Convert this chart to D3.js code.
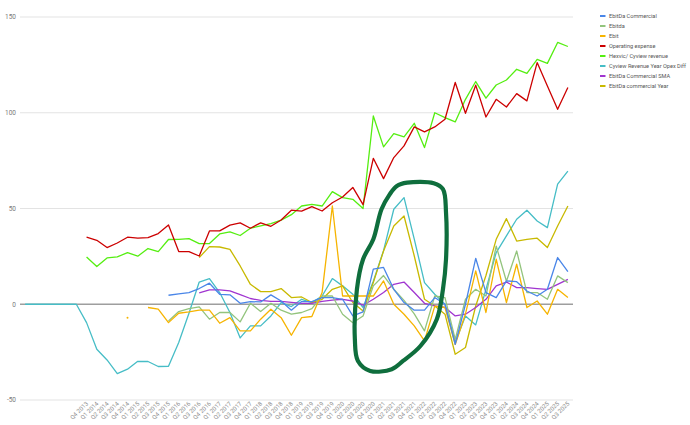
<!DOCTYPE html>
<html><head><meta charset="utf-8">
<script src="https://cdn.jsdelivr.net/npm/d3@7"></script>
<style>
html,body{margin:0;padding:0;background:#fff;}
text{font-family:Roboto,"Noto Sans",Arial,sans-serif;}
</style></head>
<body><svg id="c" width="690" height="425"></svg>
<script>
const N = null;
const quarters = ["","","","","","",
 "Q4 2013","Q1 2014","Q2 2014","Q3 2014","Q4 2014","Q1 2015","Q2 2015","Q3 2015","Q4 2015",
 "Q1 2016","Q2 2016","Q3 2016","Q4 2016","Q1 2017","Q2 2017","Q3 2017","Q4 2017",
 "Q1 2018","Q2 2018","Q3 2018","Q4 2018","Q1 2019","Q2 2019","Q3 2019","Q4 2019",
 "Q1 2020","Q2 2020","Q3 2020","Q4 2020","Q1 2021","Q2 2021","Q3 2021","Q4 2021",
 "Q1 2022","Q2 2022","Q3 2022","Q4 2022","Q1 2023","Q2 2023","Q3 2023","Q4 2023",
 "Q1 2024","Q2 2024","Q3 2024","Q4 2024","Q1 2025","Q2 2025","Q3 2025"];

const ebitdaCommercial = [N,N,N,N,N,N, N,N,N,N,N,N,N,N,
 4.7,5.4,6.1,8.2,11,5.2,4.9,0.5,1.4,1.2,4.9,1.7,
 -3.1,1.4,1.4,3.5,3.5,2.6,-6.1,-4,18.3,19.2,
 7.8,0.9,-3.1,-3.1,3.5,0,-20.9,0,24,6.1,
 3.5,12.2,11.8,6.9,4.3,7.8,24.4,17];
const ebitda = [N,N,N,N,N,N, N,N,N,N,N,N,N,N,
 -8.7,-3.8,-2.3,-1.4,-7.8,-4.3,-4.3,-9.2,0.5,-3.8,0.5,-3.1,
 -5.2,-4.3,-2.3,4.3,4.3,-5.2,-9.6,-6.1,9.6,15,
 7.8,2,-5,-13.9,4.3,3.5,-18.3,2.6,7.8,4.3,
 30.4,12,27.8,6.1,6.1,2.6,14.8,11.3];
const ebit = [N,N,N,N,N,N, N,N,N,N,-7,N,
 -1.7,-2.6,-9.6,-4.7,
 -4,-3.1,-3.1,-9.9,-7,-13.9,-13.9,-7.8,-2.6,-7,
 -16.2,-7,-6.4,6.1,51.3,4.3,4.3,4.3,4.3,12.2,
 0,-5.2,-11.3,-19.1,-1,-1.7,-21,-5,17.4,-4.3,
 23.5,0.9,20.9,-1.7,1.7,-5.2,7.8,3.5];
const operatingExpense = [N,N,N,N,N,N,
 35.1,33.4,29.6,32,35,34.5,34.8,36.9,41.4,27.5,
 27.5,25.2,38.3,38.3,41.3,42.5,39.7,42.5,40.7,44,
 49.1,48.6,51,48.7,53,56,61,52,76.2,65.6,
 76.6,82.7,92.6,90,92.6,96.6,115.8,99.7,114.4,97.8,
 107,103,110,106.2,126.2,114,101.8,113.2];
const revenue = [N,N,N,N,N,N,
 24.7,19.7,24.2,24.7,27,25.1,29.1,27.5,33.8,33.9,
 34.3,31.7,31.7,36.7,37.8,35.9,39.7,40.9,42.1,43.9,
 46.8,51.3,52.2,51.3,58.8,55.7,54.8,50,98.3,82.2,
 89.1,87.4,94.5,81.8,100,97.5,95.2,107,116.3,107.6,
 114.5,117.1,122.7,120.6,127.9,125.8,136.7,134.6];
const opexDiff = [0,0,0,0,0,0,
 -9.6,-23.5,-29.1,-36.2,-33.9,-29.8,-29.9,-32.5,-32.4,-20,
 -4.7,11.6,13.4,6.1,-4.3,-17.6,-11.3,-11.3,-6.1,0.9,
 -1.2,2.6,0.9,4.3,13.4,9.6,5.2,-1.7,12,28,
 49.6,55.7,34,11.3,5.2,0,-20,-6.1,-10.8,7.8,
 27,35.7,44.4,49.1,43.5,40,62.7,69.5];
const ebitdaSMA = [N,N,N,N,N,N, N,N,N,N,N,N,N,N,N,N,N,
 6,7.5,7.5,7,5,3,2,1.5,1.5,
 1,0.5,0.5,1.5,2.2,2.6,1.7,-0.5,2.6,6.1,
 10.4,11.6,6.1,0.5,-0.9,-1.7,-6.1,-5.2,-1.7,2.6,
 9.6,11.6,8.7,8.7,8.2,7.8,10.4,13];
const ebitdaYear = [N,N,N,N,N,N, N,N,N,N,N,N,N,N,N,N,N,
 24.4,30.1,29.9,28.7,20,10.4,6.6,6.6,8.2,
 3.5,3.8,0.9,2.6,7.8,9.6,0.9,-3.5,11.3,27.8,
 40.9,46.1,25.2,2.6,-0.9,-5.2,-26.1,-22.6,-0.9,15,
 33.9,44.7,33,33.9,34.5,29.6,40.9,51.3];

const seriesNames = ["EbitDa Commercial","Ebitda","Ebit","Operating expense","Hexvic/ Cyview revenue","Cyview Revenue Year Opex Diff","EbitDa Commercial SMA","EbitDa commercial Year"];
const seriesColors = ["#4a86e8","#93c47d","#f6b400","#cc0000","#55ee11","#46bdc6","#a035d0","#c8b900"];
const seriesData = [ebitdaCommercial, ebitda, ebit, operatingExpense, revenue, opexDiff, ebitdaSMA, ebitdaYear];
const drawOrder = [5,7,6,1,2,0,4,3];
const yTicks = [-50,0,50,100,150];

// hand-drawn annotation loop (category index, value)
const annotation = [[36.3,61.8],[37.3,63.5],[39.9,63.2],[40.8,60.1],[41.1,47.9],[41.1,23.5],[40.8,7.8],[40.2,-7.8],
 [38.6,-21.8],[36.9,-29.6],[35.8,-33.9],[33.7,-34.8],[32.5,-29.6],[32.2,-18.3],[32.4,7.8],[33.0,23.5],[34.0,33.9],[34.8,49.6],[35.6,57.4]];

const svg = d3.select("#c");
const L = 20, R = 573, T = 17, B = 400;
const x = d3.scaleBand().domain(d3.range(quarters.length)).range([L, R]);
const cx = i => x(i) + x.bandwidth()/2;
const y = d3.scaleLinear().domain([-50,150]).range([B, T]);

// grid
svg.append("g").selectAll("line").data(yTicks.filter(d=>d!==0)).join("line")
  .attr("x1", L).attr("x2", R).attr("y1", d=>y(d)).attr("y2", d=>y(d))
  .attr("stroke", "#e3e3e3").attr("stroke-width", 1);
svg.append("g").selectAll("text").data(yTicks).join("text")
  .attr("x", 16).attr("y", d=>y(d)+2.3).attr("text-anchor","end")
  .attr("font-size", 6.5).attr("fill", "#7a7a7a").text(d=>d);

// x labels
svg.append("g").selectAll("text").data(d3.range(quarters.length).filter(i=>quarters[i])).join("text")
  .attr("transform", i=>`translate(${cx(i)+2},${B+4}) rotate(-45)`)
  .attr("text-anchor","end").attr("font-size", 6).attr("fill","#8a8a8a")
  .text(i=>quarters[i]);

// zero line
svg.append("line").attr("x1", L).attr("x2", R).attr("y1", y(0)).attr("y2", y(0))
  .attr("stroke", "#9e9e9e").attr("stroke-width", 1.3);

// series
const line = d3.line().defined(d=>d[1]!==null).x(d=>cx(d[0])).y(d=>y(d[1]));
drawOrder.forEach(k=>{
  const arr = seriesData[k].map((v,i)=>[i,v]);
  svg.append("path").attr("d", line(arr)).attr("fill","none")
    .attr("stroke", seriesColors[k]).attr("stroke-width", 1.3).attr("stroke-linejoin","round");
  const iso = arr.filter(([i,v])=> v!==null && (i===0||seriesData[k][i-1]===null) && (i===arr.length-1||seriesData[k][i+1]===null));
  svg.append("g").selectAll("circle").data(iso).join("circle")
    .attr("cx", d=>cx(d[0])).attr("cy", d=>y(d[1])).attr("r", 1).attr("fill", seriesColors[k]);
});

// annotation
const ax = d3.scaleLinear().domain([0, quarters.length-1]).range([cx(0), cx(quarters.length-1)]);
svg.append("path")
  .attr("d", d3.line().x(d=>ax(d[0])).y(d=>y(d[1])).curve(d3.curveCatmullRomClosed)(annotation))
  .attr("fill","none").attr("stroke","#0f6e3d").attr("stroke-width",4.2).attr("stroke-linejoin","round");

// legend
const lg = svg.append("g").attr("transform","translate(600,16)");
seriesNames.forEach((n,k)=>{
  const g = lg.append("g").attr("transform",`translate(0,${k*10})`);
  g.append("line").attr("x1",0).attr("x2",5.5).attr("y1",0).attr("y2",0)
    .attr("stroke",seriesColors[k]).attr("stroke-width",2);
  g.append("text").attr("x",9).attr("y",2.1).attr("font-size",5.6).attr("fill","#555").text(n);
});
</script></body></html>
